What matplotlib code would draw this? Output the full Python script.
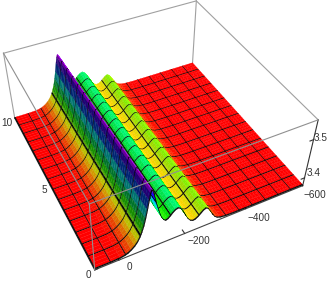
import numpy as np
import matplotlib
matplotlib.use('Agg')
import matplotlib.pyplot as plt
from matplotlib.colors import hsv_to_rgb

plt.rcParams['font.family'] = ['Liberation Sans', 'DejaVu Sans']

# Data: wave profile across x, and how tall it stands along t
x_profile = [70, 20, -5, -18, -28, -38, -48, -56, -63, -69, -75, -80, -85, -90, -94, -97, -100, -104, -108, -113,
             -118, -123, -128, -133, -139, -146, -153, -160, -168, -176, -184, -192, -200, -208, -216, -224,
             -232, -240, -248, -256, -264, -272, -280, -288, -296, -304, -314, -330, -360, -400, -600]
z_profile = [3.380, 3.380, 3.381, 3.383, 3.386, 3.391, 3.398, 3.406, 3.416, 3.428, 3.443, 3.460, 3.480, 3.502, 3.518, 3.525,
             3.522, 3.512, 3.498, 3.482, 3.468, 3.455, 3.445, 3.439, 3.435, 3.437, 3.442, 3.448, 3.453, 3.455, 3.451,
             3.441, 3.428, 3.416, 3.408, 3.405, 3.406, 3.410, 3.416, 3.422, 3.425, 3.421, 3.411, 3.400, 3.391, 3.386,
             3.383, 3.381, 3.380, 3.380, 3.380]
t_rows = [0, 1, 2, 3, 4, 5, 6, 7, 8, 9, 10]
height_rows = [1.0, 0.99, 0.98, 0.97, 0.96, 0.95, 0.94, 0.93, 0.92, 0.91, 0.90]
x_ticks = [0, -200, -400, -600]
x_ticklabels = ['0', '\u2212200', '\u2212400', '\u2212600']
t_ticks = [0, 5, 10]
z_ticks = [3.4, 3.5]

x_lim = (70, -600)
t_lim = (0, 10)
z_lim = (3.378, 3.548)
z_floor = 3.380
n_mesh = 15

# Surface grid, with thin strips along the mesh lines so they get hidden properly
x_mesh = np.linspace(x_lim[0], x_lim[1], n_mesh + 1)
t_mesh = np.linspace(t_lim[0], t_lim[1], n_mesh + 1)
x_strip = np.clip(x_mesh - 2.4, x_lim[1], x_lim[0])
t_strip = np.clip(t_mesh + 0.05, t_lim[0], t_lim[1])
xc = np.unique(np.concatenate([x_profile, x_mesh, x_strip, np.linspace(-330, -600, 28)]))[::-1]
tc = np.unique(np.concatenate([np.linspace(0, 10, 61), t_mesh, t_strip]))

base = np.interp(xc[::-1], x_profile[::-1], z_profile[::-1])[::-1]
amp = np.interp(tc, t_rows, height_rows)
X, T = np.meshgrid(xc, tc)
Z = z_floor + np.outer(amp, base - z_floor)

# Colours: hue climbs with height, the flank facing +x sits in shadow
zmid = 0.5 * (base[:-1] + base[1:])
slope = (base[1:] - base[:-1]) / (xc[:-1] - xc[1:]) / 0.17
hue = np.clip((zmid - z_floor) / 0.145 * 0.80, 0, 0.8)
val = np.clip(1 - 30 * np.clip(slope, 0, None), 0.45, 1)
rgb = hsv_to_rgb(np.stack([hue, np.ones_like(hue), val], axis=-1))
fc = np.ones((len(tc), len(xc), 4))
fc[:, :-1, :3] = rgb
fc[:, -1, :3] = rgb[-1]
for i, t in enumerate(tc):
    if np.isclose(t, t_mesh).any():
        fc[i, :, :3] = 0.0
fc[:, np.isclose(xc[:, None], x_mesh).any(axis=1), :3] = 0.0

fig = plt.figure(figsize=(3.32, 2.84), dpi=100)
ax = fig.add_axes([-11.43 / 332, 1.92 / 284, 317.8 / 332, 317.8 / 284], projection='3d')
ax.set_xlim(*x_lim)
ax.set_ylim(*t_lim)
ax.set_zlim(*z_lim)
ax.view_init(elev=41.99, azim=-117.25, roll=-0.65)
ax.set_proj_type('persp', focal_length=0.3894)
ax.set_box_aspect((1, 0.9937, 0.3933))
ax.set_axis_off()
ax.computed_zorder = False

surf = ax.plot_surface(X, T, Z, facecolors=fc, rstride=1, cstride=1, shade=False,
                       linewidth=0.2, antialiased=True, zorder=2)
surf.set_edgecolor(fc[:-1, :-1].reshape(-1, 4))
surf.set_clip_on(False)

# Box edges
x0, x1 = x_lim
t0, t1 = t_lim
z0, z1 = z_lim
def edge(a, b, color='#a0a0a0', zorder=1, lw=0.8):
    line, = ax.plot([a[0], b[0]], [a[1], b[1]], [a[2], b[2]], color=color, lw=lw, zorder=zorder)
    line.set_clip_on(False)

edge((x0, t1, z1), (x1, t1, z1))
edge((x1, t1, z1), (x1, t0, z1))
edge((x1, t1, z0), (x1, t1, z1))
edge((x0, t1, z0), (x0, t1, z1))
edge((x0, t1, z1), (x0, t0, z1), color='#909090', zorder=3)
edge((x0, t0, z1), (x1, t0, z1), color='#909090', zorder=3)
edge((x0, t0, z0), (x0, t0, z1), color='#909090', zorder=3)
edge((x0, t0, z0), (x1, t0, z0), color='#444444')
edge((x1, t0, z0), (x1, t0, z1), color='#333333')
edge((x0, t0, z0), (x0, t1, z0), color='#333333')

# Ticks
for v in x_ticks:
    edge((v, t0, z0), (v, t0 + 0.2, z0), color='#333333')
for v in t_ticks:
    edge((x0, v, z0), (x0 - 9, v, z0), color='#333333')
for v in z_ticks:
    edge((x1, t0, v), (x1 + 12, t0, v), color='#333333')

# Tick labels, placed in picture pixels
def label(px, py, s):
    fig.text(px / 332, 1 - py / 284, s, fontsize=7.2, color='#333333', ha='center', va='center')

for (px, py), s in zip([(129, 267), (199, 241), (259, 218), (315, 195)], x_ticklabels):
    label(px, py, s)
for (px, py), v in zip([(88, 275), (44, 190), (7, 123)], t_ticks):
    label(px, py, str(v))
for (px, py), v in zip([(314, 173), (321, 138)], z_ticks):
    label(px, py, str(v))

fig.savefig('out.png', dpi=100)
